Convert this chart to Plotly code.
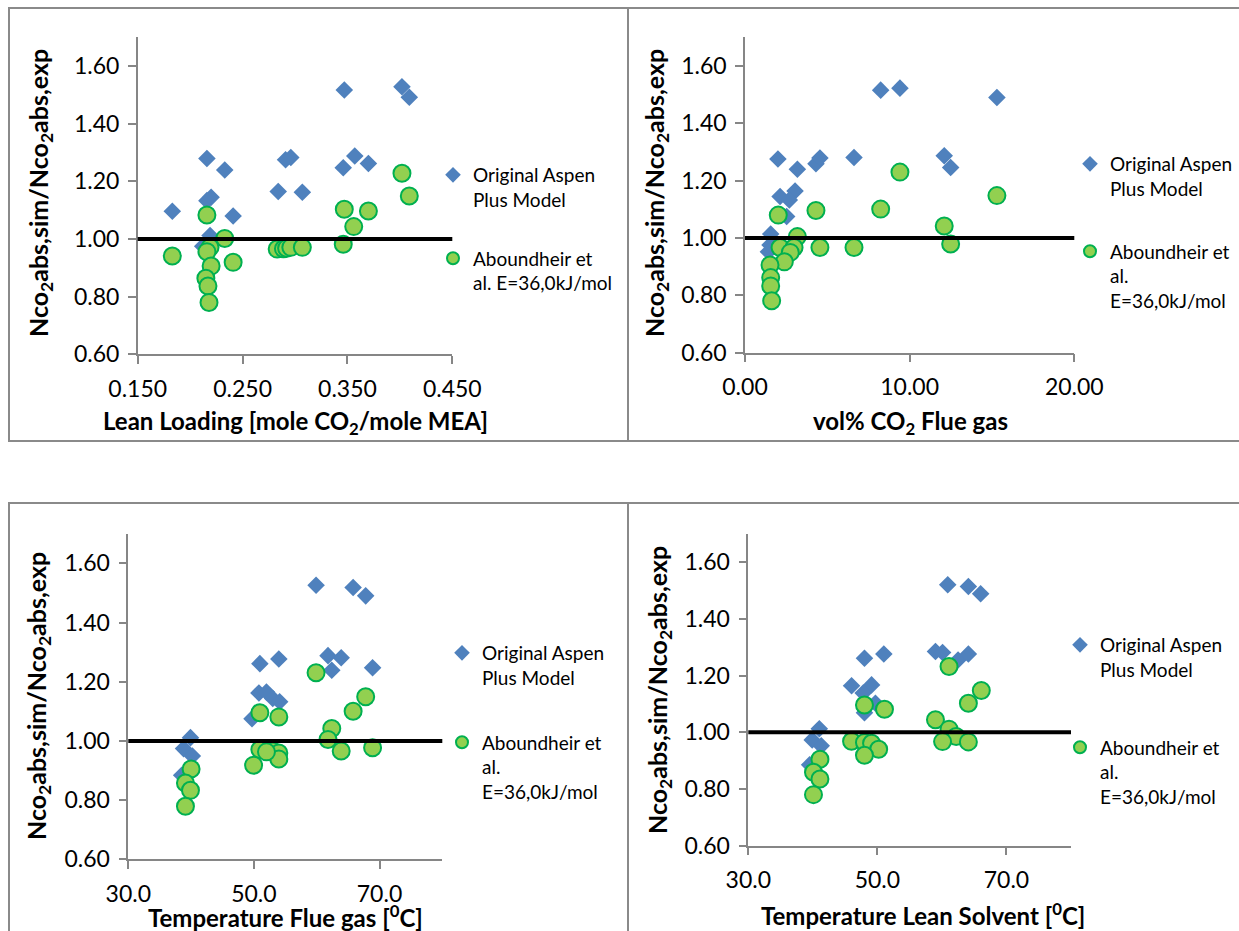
import plotly.graph_objects as go

W, H = 1239, 931

# ---- data -------------------------------------------------------------
# Lean loading [mole CO2 / mole MEA]
lean_aspen_x = [0.183, 0.216, 0.233, 0.216, 0.220, 0.241, 0.219, 0.212, 0.284,
                0.291, 0.296, 0.307, 0.346, 0.347, 0.357, 0.370, 0.402, 0.409]
lean_aspen_y = [1.096, 1.279, 1.239, 1.133, 1.145, 1.080, 1.012, 0.975, 1.165,
                1.275, 1.283, 1.162, 1.247, 1.517, 1.288, 1.262, 1.528, 1.492]
lean_ab_x = [0.183, 0.216, 0.233, 0.219, 0.216, 0.220, 0.215, 0.217, 0.218, 0.241,
             0.283, 0.289, 0.292, 0.296, 0.307, 0.346, 0.347, 0.356, 0.370, 0.402, 0.409]
lean_ab_y = [0.941, 1.083, 1.002, 0.971, 0.956, 0.906, 0.864, 0.837, 0.780, 0.919,
             0.965, 0.966, 0.968, 0.971, 0.971, 0.982, 1.103, 1.043, 1.097, 1.228, 1.149]

# vol% CO2 in flue gas
vol_aspen_x = [2.00, 3.18, 4.31, 4.55, 6.62, 8.24, 9.41, 12.10, 12.49, 15.30,
               2.13, 3.04, 2.69, 2.53, 1.56, 1.52, 1.42]
vol_aspen_y = [1.276, 1.240, 1.259, 1.279, 1.281, 1.516, 1.523, 1.287, 1.246, 1.490,
               1.145, 1.164, 1.133, 1.075, 1.014, 0.976, 0.952]
vol_ab_x = [2.02, 4.31, 8.24, 9.41, 12.10, 12.49, 15.30, 4.55, 6.62, 2.13,
            3.18, 2.98, 2.75, 2.39, 1.52, 1.56, 1.56, 1.62]
vol_ab_y = [1.080, 1.096, 1.101, 1.230, 1.042, 0.979, 1.148, 0.967, 0.967, 0.967,
            1.005, 0.967, 0.950, 0.917, 0.906, 0.862, 0.833, 0.781]

# Flue gas temperature [degC]
tflue_aspen_x = [59.9, 65.8, 67.8, 61.8, 63.9, 62.4, 68.9, 50.95, 53.97, 50.8,
                 52.0, 53.0, 54.1, 49.7, 39.9, 38.8, 40.2, 38.5]
tflue_aspen_y = [1.526, 1.518, 1.490, 1.288, 1.281, 1.239, 1.247, 1.261, 1.277, 1.162,
                 1.165, 1.143, 1.132, 1.075, 1.011, 0.974, 0.949, 0.884]
tflue_ab_x = [59.9, 67.8, 65.8, 62.4, 61.8, 63.9, 68.9, 50.95, 53.97, 50.95,
              53.0, 53.97, 53.97, 52.0, 49.95, 40.0, 39.1, 39.9, 39.1]
tflue_ab_y = [1.230, 1.149, 1.100, 1.042, 1.005, 0.966, 0.977, 1.095, 1.081, 0.971,
              0.966, 0.959, 0.939, 0.963, 0.918, 0.905, 0.858, 0.833, 0.779]

# Lean solvent temperature [degC]
tlean_aspen_x = [60.9, 64.1, 66.0, 59.0, 60.1, 62.5, 64.1, 48.0, 51.0, 46.0,
                 49.1, 47.8, 49.7, 48.0, 41.0, 39.9, 41.3, 39.5]
tlean_aspen_y = [1.520, 1.514, 1.488, 1.285, 1.281, 1.255, 1.276, 1.261, 1.276, 1.164,
                 1.167, 1.138, 1.102, 1.069, 1.012, 0.973, 0.952, 0.885]
tlean_ab_x = [61.1, 66.1, 64.1, 59.0, 61.1, 62.2, 60.1, 64.1, 48.0, 51.1,
              46.0, 48.0, 49.1, 50.2, 48.0, 41.1, 40.1, 41.1, 40.1]
tlean_ab_y = [1.232, 1.147, 1.102, 1.044, 1.011, 0.985, 0.967, 0.966, 1.096, 1.081,
              0.968, 0.964, 0.961, 0.940, 0.919, 0.905, 0.859, 0.835, 0.780]

ASPEN_NAME = "Original Aspen<br>Plus Model"
AB_NAME_2LINE = "Aboundheir et<br>al. E=36,0kJ/mol"
AB_NAME_3LINE = "Aboundheir et<br>al.<br>E=36,0kJ/mol"

X_TITLES = [
    "Lean Loading [mole CO<sub>2</sub>/mole MEA]",
    "vol% CO<sub>2</sub> Flue gas",
    "Temperature Flue gas [<sup>0</sup>C]",
    "Temperature Lean Solvent [<sup>0</sup>C]",
]
Y_TITLE = "Nco<sub>2</sub>abs,sim/Nco<sub>2</sub>abs,exp"

# ---- styling ----------------------------------------------------------
BLUE = "#4F81BD"
GREEN_FILL = "#92D050"
GREEN_LINE = "#00B050"
AXIS_GRAY = "#868686"
FRAME_GRAY = "#8A8A8A"
FONT = "Lato"


def fx(p):
    return p / W


def fy(p):
    return 1 - p / H


# plot-area boxes in pixels: (left, right, top, bottom)
panels = [
    dict(box=(137.7, 452.3, 37.2, 354.3), xr=[0.15, 0.45], tick0=0.15, dtick=0.1, fmt=".3f",
         xs=(lean_aspen_x, lean_aspen_y, lean_ab_x, lean_ab_y), ab_name=AB_NAME_2LINE,
         leg=(433, 156, 31), xt=(295, 422), yt=(40, 193)),
    dict(box=(745.0, 1074.3, 37.4, 352.7), xr=[0, 20], tick0=0, dtick=10, fmt=".2f",
         xs=(vol_aspen_x, vol_aspen_y, vol_ab_x, vol_ab_y), ab_name=AB_NAME_3LINE,
         leg=(1070, 145, 35), xt=(910, 423), yt=(656, 193)),
    dict(box=(128.3, 442.3, 533.7, 859.3), xr=[30, 80], tick0=30, dtick=20, fmt=".1f",
         xs=(tflue_aspen_x, tflue_aspen_y, tflue_ab_x, tflue_ab_y), ab_name=AB_NAME_3LINE,
         leg=(442, 634, 37), xt=(285, 916), yt=(38, 696)),
    dict(box=(748.3, 1071.0, 533.7, 845.7), xr=[30, 80], tick0=30, dtick=20, fmt=".1f",
         xs=(tlean_aspen_x, tlean_aspen_y, tlean_ab_x, tlean_ab_y), ab_name=AB_NAME_3LINE,
         leg=(1060, 626, 50), xt=(923, 914), yt=(659, 690)),
]

fig = go.Figure()
layout = dict(
    width=W, height=H, autosize=False,
    margin=dict(l=0, r=0, t=0, b=0, autoexpand=False),
    paper_bgcolor="white", plot_bgcolor="white",
    font=dict(family=FONT, color="black"),
    showlegend=True,
    shapes=[], annotations=[],
)

for i, p in enumerate(panels, start=1):
    sfx = "" if i == 1 else str(i)
    xa, ya = "x" + sfx, "y" + sfx
    leg = "legend" + sfx
    ax_x, ax_y, ab_x, ab_y = p["xs"]

    fig.add_trace(go.Scatter(
        x=ax_x, y=ax_y, mode="markers", name=ASPEN_NAME,
        xaxis=xa, yaxis=ya, legend=leg, legendgroup=f"aspen{i}",
        marker=dict(symbol="diamond", size=13.5, color=BLUE, line=dict(width=0)),
    ))
    fig.add_trace(go.Scatter(
        x=ab_x, y=ab_y, mode="markers", name=p["ab_name"],
        xaxis=xa, yaxis=ya, legend=leg, legendgroup=f"ab{i}",
        marker=dict(symbol="circle", size=17, color=GREEN_FILL,
                    line=dict(width=2, color=GREEN_LINE)),
    ))

    l, r, t, b = p["box"]
    layout["xaxis" + sfx] = dict(
        domain=[fx(l), fx(r)], anchor=ya, range=p["xr"], automargin=False,
        tick0=p["tick0"], dtick=p["dtick"], tickformat=p["fmt"],
        showgrid=False, zeroline=False, showline=True,
        linecolor=AXIS_GRAY, linewidth=1.5,
        ticks="outside", ticklen=8, tickwidth=1.5, tickcolor=AXIS_GRAY,
        tickfont=dict(family=FONT, size=23, color="black"),
        ticklabelstandoff=5,
    )
    layout["yaxis" + sfx] = dict(
        domain=[fy(b), fy(t)], anchor=xa, range=[0.6, 1.7], automargin=False,
        tick0=0.6, dtick=0.2, tickformat=".2f",
        showgrid=False, zeroline=False, showline=True,
        linecolor=AXIS_GRAY, linewidth=1.5,
        ticks="outside", ticklen=8, tickwidth=1.5, tickcolor=AXIS_GRAY,
        tickfont=dict(family=FONT, size=23, color="black"),
        ticklabelstandoff=4,
    )

    # unity reference line across the whole plot width
    layout["shapes"].append(dict(
        type="line", xref=xa + " domain", x0=0, x1=1, yref=ya, y0=1.0, y1=1.0,
        line=dict(color="black", width=4), layer="above",
    ))

    lx, ly, gap = p["leg"]
    layout[leg] = dict(
        x=fx(lx), y=fy(ly), xanchor="left", yanchor="top",
        font=dict(family=FONT, size=19, color="black"),
        bgcolor="rgba(0,0,0,0)", borderwidth=0,
        itemsizing="constant", valign="top", tracegroupgap=gap,
    )

    tx, ty = p["xt"]
    layout["annotations"].append(dict(
        text="<b>" + X_TITLES[i - 1] + "</b>", xref="paper", yref="paper",
        x=fx(tx), y=fy(ty), xanchor="center", yanchor="middle", showarrow=False,
        font=dict(family=FONT, size=24, color="black"),
    ))
    vx, vy = p["yt"]
    layout["annotations"].append(dict(
        text="<b>" + Y_TITLE + "</b>", xref="paper", yref="paper", textangle=-90,
        x=fx(vx), y=fy(vy), xanchor="center", yanchor="middle", showarrow=False,
        font=dict(family=FONT, size=25, color="black"),
    ))

# chart-area frames
for x0, y0, x1, y1 in [(9, 8, 628, 441), (628, 8, 1250, 441),
                       (9, 503, 628, 945), (628, 503, 1250, 945)]:
    layout["shapes"].append(dict(
        type="rect", xref="paper", yref="paper",
        x0=fx(x0), x1=fx(x1), y0=fy(y1), y1=fy(y0),
        line=dict(color=FRAME_GRAY, width=2), fillcolor="rgba(0,0,0,0)", layer="below",
    ))

fig.update_layout(**layout)
fig.write_html("out.html")
